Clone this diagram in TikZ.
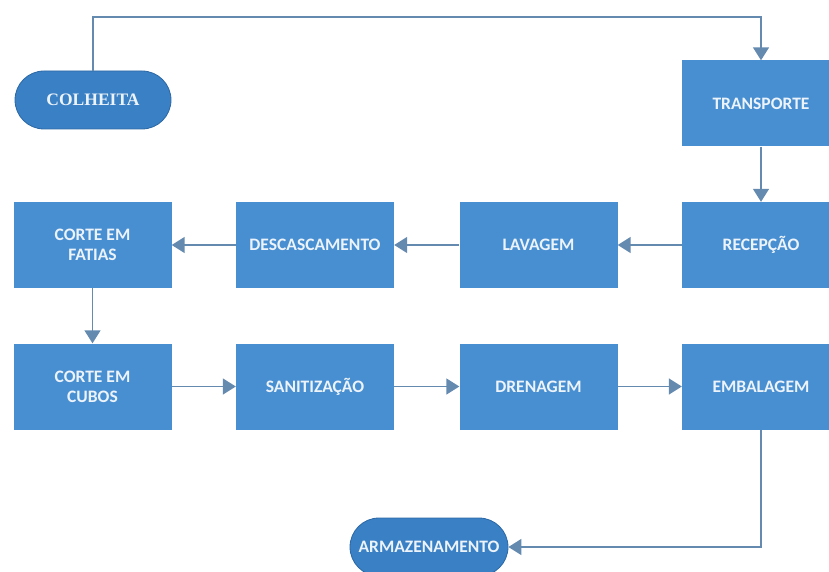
\documentclass[tikz,border=0pt]{standalone}
\usepackage{fontspec}
\setmainfont{Carlito}
\newfontfamily\timesbf{Liberation Serif}
\usepackage{tikz}
\usetikzlibrary{shapes,shapes.misc,arrows.meta,positioning}

\definecolor{boxblue}{RGB}{72,143,210}
\definecolor{pillblue}{RGB}{58,128,196}
\definecolor{pillrim}{RGB}{44,104,165}
\definecolor{flowgray}{RGB}{100,138,176}
\definecolor{labelwhite}{RGB}{236,243,250}

\begin{document}
\begin{tikzpicture}[x=1pt,y=-1pt]
			\tikzstyle{Step}	= [rectangle, fill=boxblue, minimum width=158pt, minimum height=86pt, inner sep=2pt, align=center, text=labelwhite, font=\fontsize{17.5}{20}\selectfont\bfseries]
			\tikzstyle{Pill}	= [rounded rectangle, fill=pillblue, draw=pillrim, line width=0.8pt, minimum height=58pt, inner sep=2pt, text=labelwhite, font=\fontsize{17.5}{20}\selectfont\bfseries]
			\tikzstyle{Flow}	= [line width=1.5pt, flowgray, -{Triangle[width=16pt,length=13pt]}]

			\useasboundingbox (0,0) rectangle (829,572);
			\clip (0,0) rectangle (829,572);

			\node (colheita) at (93,100) [Pill][minimum width=160pt, font=\fontsize{17.5}{20}\selectfont\timesbf\bfseries] {COLHEITA};
			\node (armaz) at (429,547) [Pill][minimum width=162pt] {ARMAZENAMENTO};

			\node (transporte) at (761,103.5) [Step] {TRANSPORTE};
			\foreach \name/\x/\y/\txt in {recepcao/761/245/RECEPÇÃO, lavagem/538.5/245/LAVAGEM, descasc/315/245/DESCASCAMENTO, fatias/92.5/245/{CORTE EM\\FATIAS}, cubos/92.5/386.5/{CORTE EM\\CUBOS}, sanit/315/386.5/SANITIZAÇÃO, dren/538.5/386.5/DRENAGEM, embal/761/386.5/EMBALAGEM}
				\node (\name) at (\x,\y) [Step] {\txt};

			\coordinate (topbend) at (93,17);
			\draw [Flow] (colheita.north) -- (topbend) -| (transporte.north);
			\foreach \a/\b in {transporte/recepcao, recepcao/lavagem, lavagem/descasc, descasc/fatias, fatias/cubos, cubos/sanit, sanit/dren, dren/embal}
				\draw [Flow] (\a) to (\b);
			\draw [Flow] (embal.south) |- (armaz.east);
		\end{tikzpicture}
\end{document}
